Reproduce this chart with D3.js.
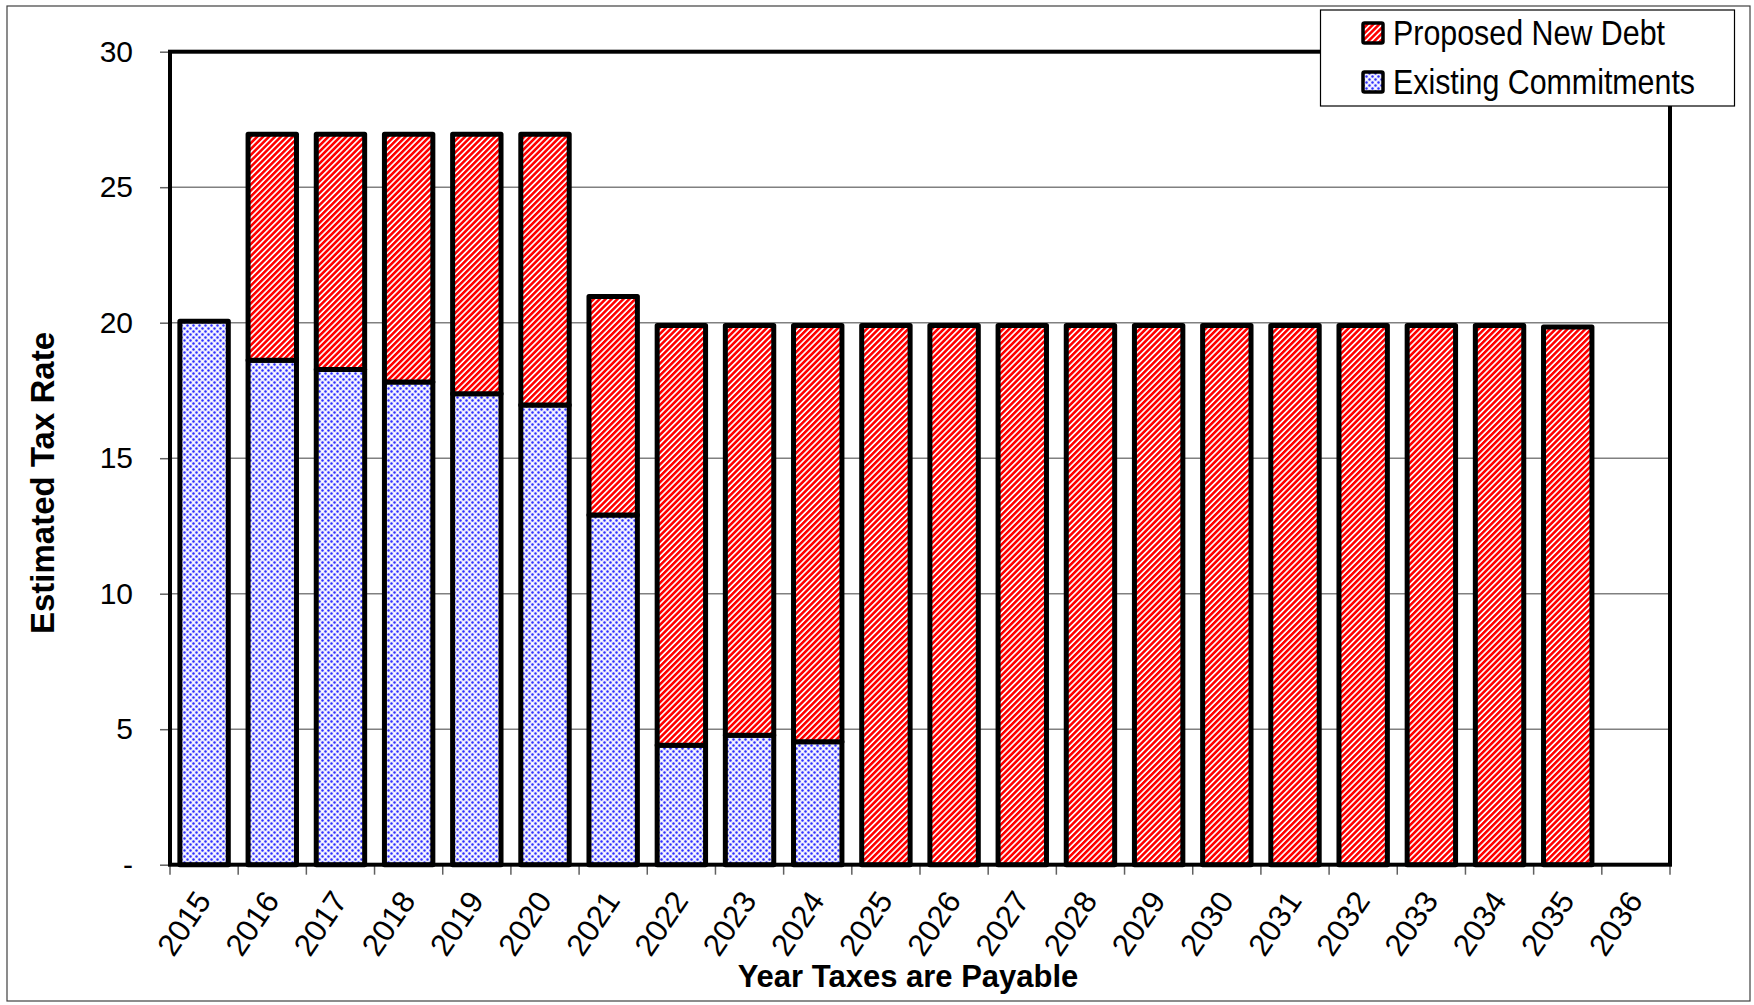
<!DOCTYPE html>
<html>
<head>
<meta charset="utf-8">
<script src="https://cdn.jsdelivr.net/npm/d3@7"></script>
<style>
  html, body { margin: 0; padding: 0; background: #fff; }
  svg { display: block; font-family: "Liberation Sans", Arial, sans-serif; }
</style>
</head>
<body>
<svg id="chart" width="1754" height="1005"></svg>
<script>
// ---- data ----
const years = ["2015","2016","2017","2018","2019","2020","2021","2022","2023","2024","2025",
               "2026","2027","2028","2029","2030","2031","2032","2033","2034","2035","2036"];
const existingCommitments = [20.05, 18.61, 18.27, 17.81, 17.38, 16.96, 12.9, 4.41, 4.78, 4.54, 0,
                             0, 0, 0, 0, 0, 0, 0, 0, 0, 0, 0];
const proposedNewDebt = [0, 8.34, 8.68, 9.14, 9.57, 9.99, 8.07, 15.49, 15.12, 15.36, 19.9,
                         19.9, 19.9, 19.9, 19.9, 19.9, 19.9, 19.9, 19.9, 19.9, 19.84, 0];
const yTicks = [0, 5, 10, 15, 20, 25, 30];
const yTickLabels = ["-", "5", "10", "15", "20", "25", "30"];
const seriesNames = ["Existing Commitments", "Proposed New Debt"];

// ---- layout ----
const svg = d3.select("#chart");
const plot = { left: 170, right: 1670, top: 51.7, bottom: 864.7 };

const rows = years.map((y, i) => ({ year: y, existing: existingCommitments[i], proposed: proposedNewDebt[i] }));
const stacked = d3.stack().keys(["existing", "proposed"])(rows);

const x = d3.scaleBand().domain(years).range([plot.left, plot.right]).paddingInner(0.29).paddingOuter(0.145);
const y = d3.scaleLinear().domain([0, 30]).range([plot.bottom, plot.top]);

// ---- patterns ----
const defs = svg.append("defs");
const stripe = defs.append("pattern").attr("id", "stripes").attr("patternUnits", "userSpaceOnUse")
  .attr("width", 4.2).attr("height", 4.2).attr("patternTransform", "rotate(45)");
stripe.append("rect").attr("width", 4.2).attr("height", 4.2).attr("fill", "#ffffff");
stripe.append("rect").attr("width", 2.6).attr("height", 4.2).attr("fill", "#ff0000");

const dots = defs.append("pattern").attr("id", "dots").attr("patternUnits", "userSpaceOnUse")
  .attr("width", 6).attr("height", 6);
dots.append("rect").attr("width", 6).attr("height", 6).attr("fill", "#e8e8ff");
dots.append("circle").attr("cx", 1.5).attr("cy", 1.5).attr("r", 1.2).attr("fill", "#3030ff");
dots.append("circle").attr("cx", 4.5).attr("cy", 4.5).attr("r", 1.2).attr("fill", "#3030ff");
dots.append("circle").attr("cx", 4.5).attr("cy", 1.5).attr("r", 1.0).attr("fill", "#ffffff");
dots.append("circle").attr("cx", 1.5).attr("cy", 4.5).attr("r", 1.0).attr("fill", "#ffffff");

const fills = { existing: "url(#dots)", proposed: "url(#stripes)" };

// ---- outer chart frame ----
svg.append("rect").attr("x", 7).attr("y", 6).attr("width", 1743).attr("height", 995)
  .attr("fill", "none").attr("stroke", "#404040").attr("stroke-width", 1.2);

// ---- gridlines ----
svg.append("g").selectAll("line").data(yTicks.filter(t => t > 0 && t < 30)).join("line")
  .attr("x1", plot.left).attr("x2", plot.right)
  .attr("y1", d => y(d)).attr("y2", d => y(d))
  .attr("stroke", "#808080").attr("stroke-width", 1.5);

// ---- y axis ----
const yAxis = d3.axisLeft(y).tickValues(yTicks).tickSize(10).tickPadding(27)
  .tickFormat((d, i) => yTickLabels[i]);
const gy = svg.append("g").attr("transform", `translate(${plot.left},0)`).call(yAxis);
gy.select(".domain").remove();
gy.selectAll(".tick line").attr("stroke", "#606060").attr("stroke-width", 1.5);
gy.selectAll(".tick text").attr("font-size", 30).attr("fill", "#000")
  .attr("font-family", "Liberation Sans, Arial, sans-serif");

// ---- x axis ticks (category boundaries) ----
svg.append("g").selectAll("line").data(years.concat(["end"])).join("line")
  .attr("x1", (d, i) => i < years.length ? x(d) - (x.step() - x.bandwidth()) / 2 : plot.right)
  .attr("x2", (d, i) => i < years.length ? x(d) - (x.step() - x.bandwidth()) / 2 : plot.right)
  .attr("y1", plot.bottom).attr("y2", plot.bottom + 10)
  .attr("stroke", "#606060").attr("stroke-width", 1.5);

svg.append("g").selectAll("text").data(years).join("text")
  .attr("transform", d => `translate(${x(d) + x.bandwidth() / 2 - 1},${plot.bottom + 30}) rotate(-56)`)
  .attr("text-anchor", "end").attr("dy", "0.35em")
  .attr("font-size", 31).attr("fill", "#000")
  .text(d => d);

// ---- bars ----
const gBars = svg.append("g");
stacked.forEach(layer => {
  gBars.append("g").selectAll("rect")
    .data(layer.filter(d => d[1] - d[0] > 0))
    .join("rect")
    .attr("x", d => x(d.data.year))
    .attr("width", x.bandwidth())
    .attr("y", d => y(d[1]))
    .attr("height", d => y(d[0]) - y(d[1]))
    .attr("fill", fills[layer.key])
    .attr("stroke", "#000").attr("stroke-width", 5)
    .attr("stroke-linejoin", "round");
});

// ---- plot border ----
svg.append("rect").attr("x", plot.left).attr("y", plot.top)
  .attr("width", plot.right - plot.left).attr("height", plot.bottom - plot.top)
  .attr("fill", "none").attr("stroke", "#000").attr("stroke-width", 4);

// ---- axis titles ----
svg.append("text").attr("x", 908).attr("y", 987).attr("text-anchor", "middle")
  .attr("font-size", 31).attr("font-weight", "bold").text("Year Taxes are Payable");
svg.append("text").attr("transform", "translate(54,483) rotate(-90)").attr("text-anchor", "middle")
  .attr("font-size", 33).attr("font-weight", "bold").text("Estimated Tax Rate");

// ---- legend ----
const lg = svg.append("g");
lg.append("rect").attr("x", 1320.5).attr("y", 10).attr("width", 414).attr("height", 96)
  .attr("fill", "#fff").attr("stroke", "#000").attr("stroke-width", 1.2);
const legendItems = [
  { key: "proposed", label: "Proposed New Debt", cy: 33, len: 272 },
  { key: "existing", label: "Existing Commitments", cy: 82, len: 302 }
];
legendItems.forEach(it => {
  lg.append("rect").attr("x", 1363).attr("y", it.cy - 10).attr("width", 20).attr("height", 20)
    .attr("fill", fills[it.key]).attr("stroke", "#000").attr("stroke-width", 3.5).attr("rx", 1.5);
  lg.append("text").attr("x", 1393).attr("y", it.cy + 12).attr("font-size", 35)
    .attr("textLength", it.len).attr("lengthAdjust", "spacingAndGlyphs").text(it.label);
});
</script>
</body>
</html>
